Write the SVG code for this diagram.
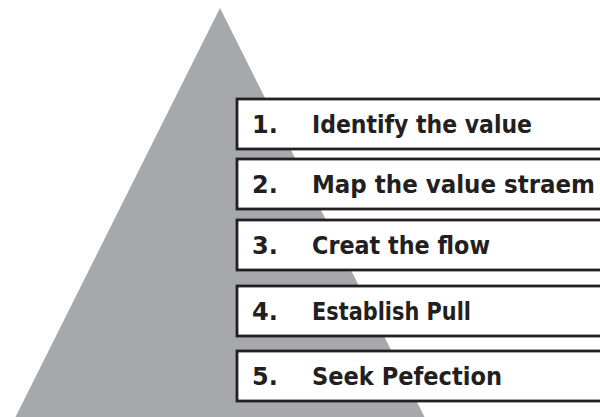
<svg xmlns="http://www.w3.org/2000/svg" width="600" height="417" viewBox="0 0 600 417">
<style>
.box{fill:#fff;stroke:#231f20;stroke-width:2.8}
.t{font-family:"DejaVu Sans","Liberation Sans",sans-serif;font-weight:bold;font-size:24px;fill:#231f20}
</style>
<rect width="600" height="417" fill="#fff"/>
<polygon id="pyramid" points="220,8 15,418 425,418" fill="#a7a8ab"/>
<g id="connectors"></g>
<g id="step1"><rect class="box" x="237" y="99" width="370" height="50"/><text class="t" x="252" y="133">1.</text><text class="t" x="312" y="133" textLength="220" lengthAdjust="spacingAndGlyphs">Identify the value</text></g>
<g id="step2"><rect class="box" x="237" y="159" width="370" height="50"/><text class="t" x="252" y="193">2.</text><text class="t" x="312" y="193" textLength="283" lengthAdjust="spacingAndGlyphs">Map the value straem</text></g>
<g id="step3"><rect class="box" x="237" y="220" width="370" height="50"/><text class="t" x="252" y="254">3.</text><text class="t" x="312" y="254" textLength="178" lengthAdjust="spacingAndGlyphs">Creat the flow</text></g>
<g id="step4"><rect class="box" x="237" y="286" width="370" height="50"/><text class="t" x="252" y="320">4.</text><text class="t" x="312" y="320" textLength="159" lengthAdjust="spacingAndGlyphs">Establish Pull</text></g>
<g id="step5"><rect class="box" x="237" y="351" width="370" height="50"/><text class="t" x="252" y="385">5.</text><text class="t" x="312" y="385" textLength="190" lengthAdjust="spacingAndGlyphs">Seek Pefection</text></g>
</svg>
